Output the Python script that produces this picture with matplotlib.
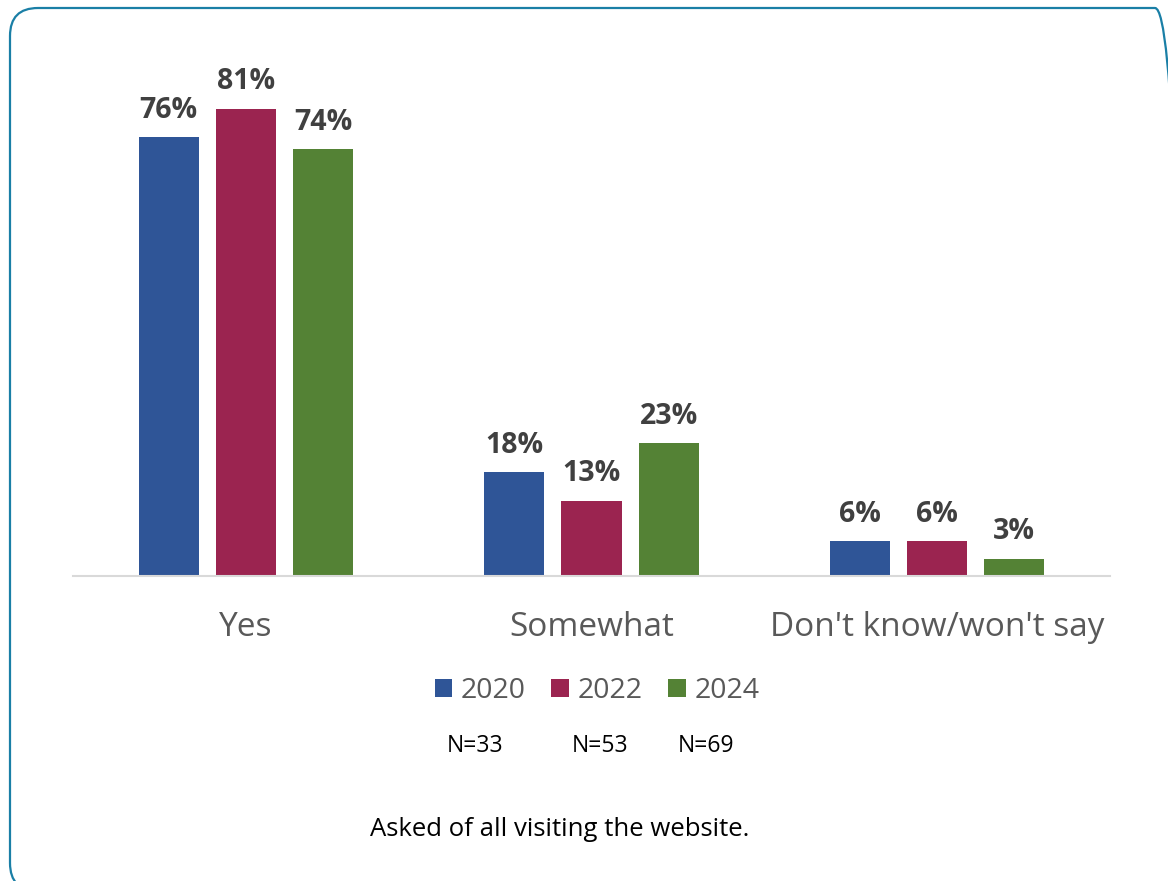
import matplotlib
matplotlib.use("Agg")
import matplotlib.pyplot as plt
import numpy as np
from matplotlib.patches import FancyBboxPatch

plt.rcParams['font.family'] = ['Open Sans', 'DejaVu Sans']

categories = ["Yes", "Somewhat", "Don't know/won't say"]
years = ["2020", "2022", "2024"]
values_2020 = [76, 18, 6]
values_2022 = [81, 13, 6]
values_2024 = [74, 23, 3]
sample_sizes = ["N=33", "N=53", "N=69"]
colors = ["#2f5597", "#9b2450", "#548235"]
note = "Asked of all visiting the website."

W, H = 1168, 881
fig = plt.figure(figsize=(W / 100, H / 100), dpi=100)
fig.patch.set_facecolor("white")

# rounded frame (extends past right and bottom edges like the reference)
frame = FancyBboxPatch((10, -10), 1173, 873 + 10, boxstyle="round,pad=0,rounding_size=28",
                       transform=None, facecolor="none", edgecolor="#1a7fa6", linewidth=1.6)
fig.patches.append(frame)

ax_left, ax_right = 73, 1110
ax_base = 576
ymax = 90
pxper = 5.77
ax_top = ax_base - ymax * pxper
ax = fig.add_axes([ax_left / W, (H - ax_base) / H, (ax_right - ax_left) / W, (ax_base - ax_top) / H])

x = np.arange(len(categories))
width = 0.174
offset = 0.223
series = [values_2020, values_2022, values_2024]
bars = []
for i, (vals, c) in enumerate(zip(series, colors)):
    b = ax.bar(x + (i - 1) * offset, vals, width, color=c, label=years[i], zorder=2)
    bars.append(b)
    for rect, v in zip(b, vals):
        ax.annotate(f"{v}%", (rect.get_x() + rect.get_width() / 2, v), xytext=(0, 9),
                    textcoords="offset points", ha="center", va="bottom",
                    fontsize=20.5, fontweight="bold", color="#404040")

ax.set_xlim(-0.5, 2.5)
ax.set_ylim(0, ymax)
for s in ["top", "right", "left"]:
    ax.spines[s].set_visible(False)
ax.spines["bottom"].set_color("#d9d9d9")
ax.spines["bottom"].set_linewidth(1.5)
ax.set_yticks([])
ax.set_xticks(x)
ax.set_xticklabels(categories, fontsize=24, color="#595959")
ax.tick_params(axis="x", length=0, pad=25)

leg = fig.legend(handles=bars, labels=years, loc="center", bbox_to_anchor=(597 / W, 1 - 691 / H),
                 ncol=3, frameon=False, fontsize=20.5, handlelength=0.62, handleheight=0.62,
                 handletextpad=0.3, columnspacing=0.9)
for t in leg.get_texts():
    t.set_color("#595959")

n_x = [475, 600, 706]
for nx, s in zip(n_x, sample_sizes):
    fig.text(nx / W, 1 - 746 / H, s, ha="center", va="center", fontsize=16.5, color="black")

fig.text(559.5 / W, 1 - 829 / H, note, ha="center", va="center", fontsize=18.5, color="black")

fig.savefig("out.png", dpi=100)
